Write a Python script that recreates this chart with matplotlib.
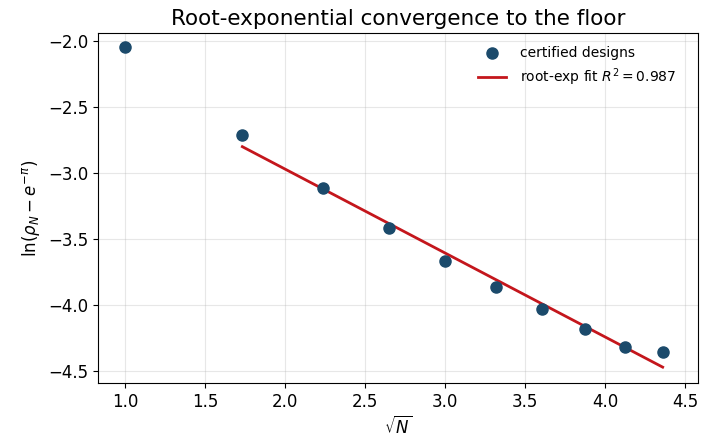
import numpy as np
import matplotlib
matplotlib.use("Agg")
import matplotlib.pyplot as plt

# certified designs: N and ln(rho_N - e^-pi)
N = np.array([1, 3, 5, 7, 9, 11, 13, 15, 17, 19])
log_gap = np.array([-2.045, -2.712, -3.114, -3.417, -3.667,
                    -3.864, -4.03, -4.184, -4.316, -4.354])

# root-exponential fit over N >= 3
fit_slope = -0.6357
fit_intercept = -1.699
fit_r2 = 0.987

sqrtN = np.sqrt(N)
x_fit = sqrtN[1:]
y_fit = fit_intercept + fit_slope * x_fit

fig = plt.figure(figsize=(7.01, 4.44), dpi=100)
ax = fig.add_axes([0.1398, 0.1374, 0.856, 0.788])

ax.scatter(sqrtN, log_gap, s=64, color="#1b4a6b", zorder=3,
           label="certified designs")
ax.plot(x_fit, y_fit, color="#c4161c", lw=2, zorder=2,
        label=f"root-exp fit $R^2={fit_r2:.3f}$")

ax.set_xlim(0.83, 4.58)
ax.set_ylim(-4.59, -1.94)
ax.set_xticks(np.arange(1.0, 4.51, 0.5))
ax.set_yticks(np.arange(-4.5, -1.99, 0.5))
ax.tick_params(labelsize=12)
ax.grid(True, alpha=0.3)

ax.set_xlabel(r"$\sqrt{N}$", fontsize=12)
ax.set_ylabel(r"$\ln(\rho_N - e^{-\pi})$", fontsize=12)
ax.set_title("Root-exponential convergence to the floor", fontsize=15.5)
ax.legend(frameon=False, fontsize=10, loc="upper right",
          bbox_to_anchor=(0.985, 1.0), handletextpad=1.0)

fig.savefig("out.png", dpi=100)
